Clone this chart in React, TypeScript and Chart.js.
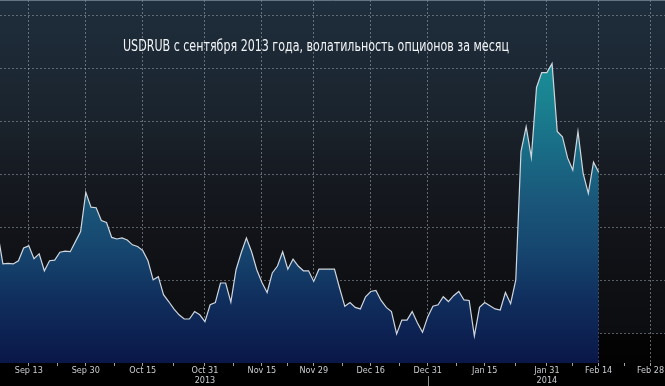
import React, { useEffect, useRef } from "react";
import { Chart, registerables } from "chart.js";

Chart.register(...registerables);

const TITLE = "USDRUB с сентября 2013 года, волатильность опционов за месяц";

// trading-day index of the first value (0 = Sep 13 2013, weekdays only)
const FIRST_DAY = -6;

// 1-month option implied volatility, one value per trading day
const volatility = [
  7.9, 7.32, 7.33, 7.32, 7.38, 7.62,
  7.66, 7.42, 7.51, 7.19, 7.38, 7.39, 7.54, 7.56, 7.55, 7.74,
  7.93, 8.67, 8.39, 8.38, 8.14, 8.1, 7.82, 7.79, 7.81, 7.77,
  7.68, 7.65, 7.57, 7.38, 7.02, 7.08, 6.74, 6.61, 6.47, 6.36,
  6.28, 6.28, 6.42, 6.36, 6.23, 6.55, 6.59, 6.96, 6.96, 6.6,
  7.21, 7.53, 7.81, 7.55, 7.21, 6.97, 6.78, 7.15, 7.28, 7.55,
  7.22, 7.41, 7.28, 7.19, 7.19, 6.99, 7.22, 7.22, 7.22, 7.22,
  6.86, 6.52, 6.59, 6.5, 6.47, 6.7, 6.8, 6.82, 6.63, 6.5,
  6.42, 6.0, 6.26, 6.26, 6.42, 6.21, 6.03, 6.32, 6.52, 6.55,
  6.7, 6.61, 6.72, 6.8, 6.64, 6.63, 5.96, 6.5, 6.59, 6.53,
  6.47, 6.45, 6.78, 6.57, 7.02, 9.44, 9.91, 9.33, 10.65, 10.93,
  10.93, 11.1, 9.82, 9.72, 9.32, 9.09, 9.82, 9.03, 8.65, 9.24, 9.05,
];

const tickDays = [0, 11, 22, 34, 45, 55, 66, 77, 88, 100, 110, 120];
const tickLabels = ["Sep 13", "Sep 30", "Oct 15", "Oct 31", "Nov 15", "Nov 29", "Dec 16", "Dec 31", "Jan 15", "Jan 31", "Feb 14", "Feb 28"];
const yearDays = [34, 100];
const yearLabels = ["2013", "2014"];
const minorTickDays = [5.5, 16.5, 28, 39.5, 50, 60.5, 71.5, 82.5, 94, 105, 115];
const yearBreakDay = 77;
const gridValues = [6, 7, 8, 9, 10, 11, 12];

const X_MIN = -5.56;
const X_MAX = 122.8;
const Y_MIN = 5.45;
const Y_MAX = 12.3;

const FONT = "'Liberation Sans Narrow', 'DejaVu Sans Condensed', 'Roboto Condensed', sans-serif";
const TITLE_WIDTH = 386;

const backgroundPlugin = {
  id: "bgBands",
  beforeDraw(chart: any) {
    const { ctx, chartArea: a, width, height } = chart;
    ctx.save();
    ctx.fillStyle = "#000000";
    ctx.fillRect(0, 0, width, height);
    const h = a.bottom - a.top;
    const g = ctx.createLinearGradient(0, a.top, 0, a.bottom);
    const stops: [number, string][] = [
      [0, "#213040"],
      [16, "#1e2c39"],
      [69, "#1c2834"],
      [122, "#1a232c"],
      [175, "#161a21"],
      [228, "#121419"],
      [281, "#0f1014"],
      [333, "#0c0d10"],
      [334.5, "#040405"],
      [h, "#020203"],
    ];
    stops.forEach(([y, c]) => g.addColorStop(Math.min(1, y / h), c));
    ctx.fillStyle = g;
    ctx.fillRect(a.left, a.top, a.right - a.left, h);
    ctx.restore();
  },
  afterDraw(chart: any) {
    const { ctx, chartArea: a, height } = chart;
    ctx.save();
    // top border
    ctx.strokeStyle = "rgba(120,132,145,0.8)";
    ctx.lineWidth = 1;
    ctx.beginPath();
    ctx.moveTo(a.left, a.top + 0.5);
    ctx.lineTo(a.right, a.top + 0.5);
    ctx.stroke();
    // year separator
    const xs = Math.round(chart.scales.x.getPixelForValue(yearBreakDay)) + 0.5;
    ctx.strokeStyle = "rgba(150,155,160,0.9)";
    ctx.beginPath();
    ctx.moveTo(xs, a.bottom + 13);
    ctx.lineTo(xs, height);
    ctx.stroke();
    // title (condensed to the narrow width of the original)
    ctx.fillStyle = "#f2f4f6";
    ctx.font = `15px ${FONT}`;
    ctx.textAlign = "center";
    ctx.textBaseline = "middle";
    const w = ctx.measureText(TITLE).width;
    const sx = Math.min(1, TITLE_WIDTH / w);
    ctx.translate(316, 47);
    ctx.scale(sx, 1);
    ctx.fillText(TITLE, 0, 0);
    ctx.restore();
  },
};

const isMajor = (v: number) => tickDays.indexOf(v) >= 0;

export default function App() {
  const ref = useRef<HTMLCanvasElement | null>(null);

  useEffect(() => {
    if (!ref.current) return;
    const points = volatility.map((v, k) => ({ x: FIRST_DAY + k, y: v }));
    const chart = new Chart(ref.current, {
      type: "line",
      data: {
        datasets: [
          {
            data: points,
            borderColor: "#cfd6dd",
            borderWidth: 1.2,
            pointRadius: 0,
            tension: 0,
            fill: "start",
            backgroundColor: (c: any) => {
              const a = c.chart.chartArea;
              if (!a) return "#16456e";
              const g = c.chart.ctx.createLinearGradient(0, a.top, 0, a.bottom);
              const h = a.bottom - a.top;
              const st: [number, string][] = [
                [50, "#1a939b"],
                [100, "#1a8290"],
                [150, "#196c86"],
                [200, "#1a577a"],
                [250, "#16466f"],
                [300, "#102e5d"],
                [h, "#0a1748"],
              ];
              st.forEach(([y, col]) => g.addColorStop(Math.min(1, y / h), col));
              return g;
            },
          },
        ],
      },
      options: {
        animation: false,
        responsive: false,
        devicePixelRatio: 1,
        layout: { padding: 0 },
        plugins: { legend: { display: false }, tooltip: { enabled: false }, title: { display: false } },
        scales: {
          x: {
            type: "linear",
            min: X_MIN,
            max: X_MAX,
            z: 1,
            afterBuildTicks: (scale: any) => {
              const all = [...tickDays, ...minorTickDays].sort((p, q) => p - q);
              scale.ticks = all.map((v) => ({ value: v }));
            },
            afterFit: (scale: any) => {
              scale.height = 23;
            },
            ticks: {
              autoSkip: false,
              maxRotation: 0,
              minRotation: 0,
              padding: 0,
              color: "#c9cdd1",
              font: { family: FONT, size: 9, lineHeight: 1.05 },
              callback: (value: any) => {
                const k = tickDays.indexOf(value);
                if (k < 0) return "";
                const y = yearDays.indexOf(value);
                return y >= 0 ? [tickLabels[k], yearLabels[y]] : tickLabels[k];
              },
            },
            grid: {
              color: (c: any) => (c.tick && isMajor(c.tick.value) ? "rgba(150,160,172,0.6)" : "rgba(0,0,0,0)"),
              tickColor: "rgba(185,190,196,0.85)",
              tickLength: 3,
              lineWidth: 1,
            },
            border: { display: false, dash: [2, 2] },
          },
          y: {
            type: "linear",
            min: Y_MIN,
            max: Y_MAX,
            z: 1,
            afterBuildTicks: (scale: any) => {
              scale.ticks = gridValues.map((v) => ({ value: v }));
            },
            afterFit: (scale: any) => {
              scale.width = 0;
            },
            ticks: { display: false },
            grid: { color: "rgba(150,160,172,0.55)", drawTicks: false, lineWidth: 1 },
            border: { display: false, dash: [2, 2] },
          },
        },
      },
      plugins: [backgroundPlugin],
    } as any);
    return () => chart.destroy();
  }, []);

  return (
    <div style={{ position: "absolute", left: 0, top: 0, width: 665, height: 386, background: "#000" }}>
      <canvas ref={ref} width={665} height={386} style={{ display: "block" }} />
    </div>
  );
}
